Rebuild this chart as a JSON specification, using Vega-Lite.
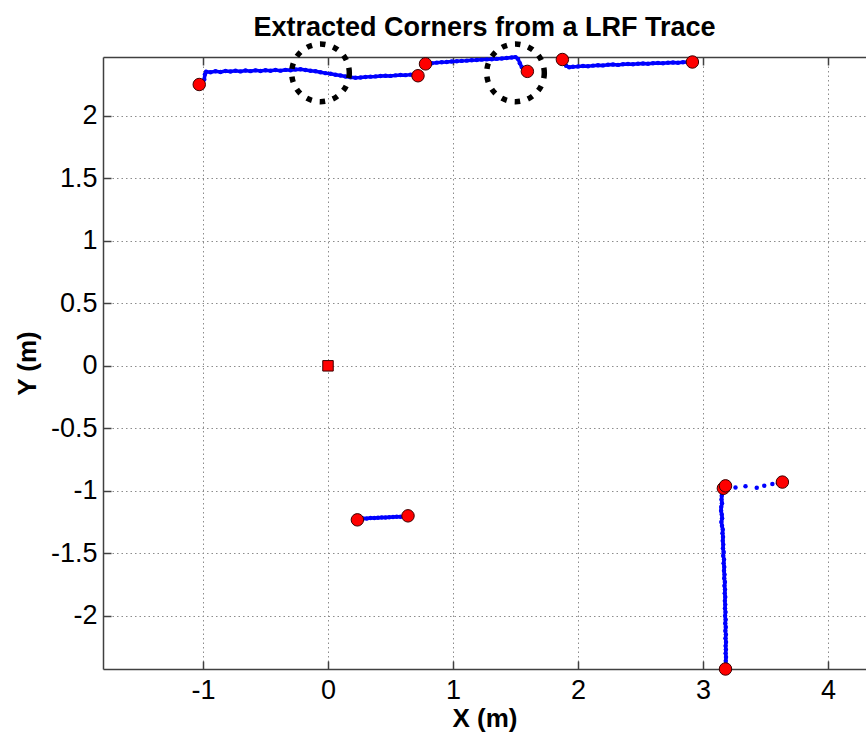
{
  "$schema": "https://vega.github.io/schema/vega-lite/v6.json",
  "width": 763,
  "height": 612,
  "autosize": {"type": "none"},
  "padding": {"left": 103, "top": 57, "right": 0, "bottom": 65},
  "background": "white",
  "title": {"text": "Extracted Corners from a LRF Trace", "font": "Liberation Sans", "fontSize": 27, "fontWeight": "bold", "color": "black", "anchor": "middle", "offset": -9},
  "config": {"view": {"stroke": null}, "font": "Liberation Sans"},
  "datasets": {
    "trace": [
      {"s": "A", "i": 1, "x": -0.99, "y": 2.29},
      {"s": "A", "i": 2, "x": -0.985, "y": 2.33},
      {"s": "A", "i": 3, "x": -0.975, "y": 2.352},
      {"s": "A", "i": 4, "x": -0.94, "y": 2.348},
      {"s": "A", "i": 5, "x": -0.9, "y": 2.356},
      {"s": "A", "i": 6, "x": -0.86, "y": 2.35},
      {"s": "A", "i": 7, "x": -0.82, "y": 2.358},
      {"s": "A", "i": 8, "x": -0.78, "y": 2.354},
      {"s": "A", "i": 9, "x": -0.74, "y": 2.36},
      {"s": "A", "i": 10, "x": -0.7, "y": 2.355},
      {"s": "A", "i": 11, "x": -0.66, "y": 2.362},
      {"s": "A", "i": 12, "x": -0.62, "y": 2.357},
      {"s": "A", "i": 13, "x": -0.58, "y": 2.363},
      {"s": "A", "i": 14, "x": -0.54, "y": 2.358},
      {"s": "A", "i": 15, "x": -0.5, "y": 2.364},
      {"s": "A", "i": 16, "x": -0.46, "y": 2.36},
      {"s": "A", "i": 17, "x": -0.42, "y": 2.366},
      {"s": "A", "i": 18, "x": -0.38, "y": 2.361},
      {"s": "A", "i": 19, "x": -0.34, "y": 2.367},
      {"s": "A", "i": 20, "x": -0.3, "y": 2.364},
      {"s": "A", "i": 21, "x": -0.26, "y": 2.37},
      {"s": "A", "i": 22, "x": -0.22, "y": 2.372},
      {"s": "A", "i": 23, "x": -0.18, "y": 2.366},
      {"s": "A", "i": 24, "x": -0.14, "y": 2.36},
      {"s": "A", "i": 25, "x": -0.1, "y": 2.356},
      {"s": "A", "i": 26, "x": -0.06, "y": 2.348},
      {"s": "A", "i": 27, "x": -0.02, "y": 2.341},
      {"s": "A", "i": 28, "x": 0.02, "y": 2.336},
      {"s": "A", "i": 29, "x": 0.06, "y": 2.328},
      {"s": "A", "i": 30, "x": 0.1, "y": 2.322},
      {"s": "A", "i": 31, "x": 0.14, "y": 2.314},
      {"s": "A", "i": 32, "x": 0.18, "y": 2.308},
      {"s": "A", "i": 33, "x": 0.22, "y": 2.304},
      {"s": "A", "i": 34, "x": 0.26, "y": 2.306},
      {"s": "A", "i": 35, "x": 0.3, "y": 2.31},
      {"s": "A", "i": 36, "x": 0.34, "y": 2.313},
      {"s": "A", "i": 37, "x": 0.38, "y": 2.315},
      {"s": "A", "i": 38, "x": 0.42, "y": 2.318},
      {"s": "A", "i": 39, "x": 0.46, "y": 2.32},
      {"s": "A", "i": 40, "x": 0.5, "y": 2.319},
      {"s": "A", "i": 41, "x": 0.54, "y": 2.323},
      {"s": "A", "i": 42, "x": 0.58, "y": 2.326},
      {"s": "A", "i": 43, "x": 0.62, "y": 2.325},
      {"s": "A", "i": 44, "x": 0.66, "y": 2.329},
      {"s": "A", "i": 45, "x": 0.7, "y": 2.331},
      {"s": "B", "i": 46, "x": 0.79, "y": 2.418},
      {"s": "B", "i": 47, "x": 0.83, "y": 2.42},
      {"s": "B", "i": 48, "x": 0.87, "y": 2.425},
      {"s": "B", "i": 49, "x": 0.91, "y": 2.428},
      {"s": "B", "i": 50, "x": 0.95, "y": 2.43},
      {"s": "B", "i": 51, "x": 0.99, "y": 2.434},
      {"s": "B", "i": 52, "x": 1.03, "y": 2.436},
      {"s": "B", "i": 53, "x": 1.07, "y": 2.439},
      {"s": "B", "i": 54, "x": 1.11, "y": 2.441},
      {"s": "B", "i": 55, "x": 1.15, "y": 2.444},
      {"s": "B", "i": 56, "x": 1.19, "y": 2.446},
      {"s": "B", "i": 57, "x": 1.23, "y": 2.449},
      {"s": "B", "i": 58, "x": 1.27, "y": 2.451},
      {"s": "B", "i": 59, "x": 1.31, "y": 2.452},
      {"s": "B", "i": 60, "x": 1.35, "y": 2.455},
      {"s": "B", "i": 61, "x": 1.39, "y": 2.458},
      {"s": "B", "i": 62, "x": 1.43, "y": 2.462},
      {"s": "B", "i": 63, "x": 1.47, "y": 2.466},
      {"s": "B", "i": 64, "x": 1.5, "y": 2.469},
      {"s": "B", "i": 65, "x": 1.52, "y": 2.455},
      {"s": "B", "i": 66, "x": 1.535, "y": 2.42},
      {"s": "B", "i": 67, "x": 1.55, "y": 2.39},
      {"s": "B", "i": 68, "x": 1.57, "y": 2.372},
      {"s": "B", "i": 69, "x": 1.585, "y": 2.36},
      {"s": "C", "i": 70, "x": 1.89, "y": 2.43},
      {"s": "C", "i": 71, "x": 1.905, "y": 2.4},
      {"s": "C", "i": 72, "x": 1.93, "y": 2.388},
      {"s": "C", "i": 73, "x": 1.96, "y": 2.392},
      {"s": "C", "i": 74, "x": 2.0, "y": 2.394},
      {"s": "C", "i": 75, "x": 2.04, "y": 2.398},
      {"s": "C", "i": 76, "x": 2.08, "y": 2.396},
      {"s": "C", "i": 77, "x": 2.12, "y": 2.401},
      {"s": "C", "i": 78, "x": 2.16, "y": 2.404},
      {"s": "C", "i": 79, "x": 2.2, "y": 2.403},
      {"s": "C", "i": 80, "x": 2.24, "y": 2.408},
      {"s": "C", "i": 81, "x": 2.28, "y": 2.41},
      {"s": "C", "i": 82, "x": 2.32, "y": 2.407},
      {"s": "C", "i": 83, "x": 2.36, "y": 2.412},
      {"s": "C", "i": 84, "x": 2.4, "y": 2.414},
      {"s": "C", "i": 85, "x": 2.44, "y": 2.412},
      {"s": "C", "i": 86, "x": 2.48, "y": 2.416},
      {"s": "C", "i": 87, "x": 2.52, "y": 2.418},
      {"s": "C", "i": 88, "x": 2.56, "y": 2.416},
      {"s": "C", "i": 89, "x": 2.6, "y": 2.42},
      {"s": "C", "i": 90, "x": 2.64, "y": 2.422},
      {"s": "C", "i": 91, "x": 2.68, "y": 2.42},
      {"s": "C", "i": 92, "x": 2.72, "y": 2.424},
      {"s": "C", "i": 93, "x": 2.76, "y": 2.426},
      {"s": "C", "i": 94, "x": 2.8, "y": 2.424},
      {"s": "C", "i": 95, "x": 2.84, "y": 2.428},
      {"s": "C", "i": 96, "x": 2.88, "y": 2.43},
      {"s": "D", "i": 97, "x": 0.25, "y": -1.226},
      {"s": "D", "i": 98, "x": 0.28, "y": -1.222},
      {"s": "D", "i": 99, "x": 0.31, "y": -1.221},
      {"s": "D", "i": 100, "x": 0.34, "y": -1.218},
      {"s": "D", "i": 101, "x": 0.37, "y": -1.217},
      {"s": "D", "i": 102, "x": 0.4, "y": -1.215},
      {"s": "D", "i": 103, "x": 0.43, "y": -1.214},
      {"s": "D", "i": 104, "x": 0.46, "y": -1.213},
      {"s": "D", "i": 105, "x": 0.49, "y": -1.211},
      {"s": "D", "i": 106, "x": 0.52, "y": -1.21},
      {"s": "D", "i": 107, "x": 0.55, "y": -1.208},
      {"s": "D", "i": 108, "x": 0.58, "y": -1.207},
      {"s": "D", "i": 109, "x": 0.61, "y": -1.205},
      {"s": "D", "i": 110, "x": 0.63, "y": -1.203},
      {"s": "E1", "i": 111, "x": 3.6, "y": -0.94},
      {"s": "E1", "i": 112, "x": 3.555, "y": -0.945},
      {"s": "E1", "i": 113, "x": 3.49, "y": -0.96},
      {"s": "E1", "i": 114, "x": 3.43, "y": -0.975},
      {"s": "E1", "i": 115, "x": 3.34, "y": -0.963},
      {"s": "E1", "i": 116, "x": 3.26, "y": -0.974},
      {"s": "E2", "i": 117, "x": 3.17, "y": -0.985},
      {"s": "E2", "i": 118, "x": 3.155, "y": -1.01},
      {"s": "E2", "i": 119, "x": 3.15, "y": -1.04},
      {"s": "E2", "i": 120, "x": 3.148, "y": -1.07},
      {"s": "E2", "i": 121, "x": 3.152, "y": -1.1},
      {"s": "E2", "i": 122, "x": 3.146, "y": -1.13},
      {"s": "E2", "i": 123, "x": 3.145, "y": -1.16},
      {"s": "E2", "i": 124, "x": 3.15, "y": -1.19},
      {"s": "E2", "i": 125, "x": 3.153, "y": -1.22},
      {"s": "E2", "i": 126, "x": 3.147, "y": -1.25},
      {"s": "E2", "i": 127, "x": 3.152, "y": -1.28},
      {"s": "E2", "i": 128, "x": 3.158, "y": -1.31},
      {"s": "E2", "i": 129, "x": 3.156, "y": -1.34},
      {"s": "E2", "i": 130, "x": 3.16, "y": -1.37},
      {"s": "E2", "i": 131, "x": 3.158, "y": -1.4},
      {"s": "E2", "i": 132, "x": 3.162, "y": -1.43},
      {"s": "E2", "i": 133, "x": 3.16, "y": -1.46},
      {"s": "E2", "i": 134, "x": 3.165, "y": -1.49},
      {"s": "E2", "i": 135, "x": 3.162, "y": -1.52},
      {"s": "E2", "i": 136, "x": 3.168, "y": -1.55},
      {"s": "E2", "i": 137, "x": 3.165, "y": -1.58},
      {"s": "E2", "i": 138, "x": 3.17, "y": -1.61},
      {"s": "E2", "i": 139, "x": 3.168, "y": -1.64},
      {"s": "E2", "i": 140, "x": 3.172, "y": -1.67},
      {"s": "E2", "i": 141, "x": 3.17, "y": -1.7},
      {"s": "E2", "i": 142, "x": 3.175, "y": -1.73},
      {"s": "E2", "i": 143, "x": 3.172, "y": -1.76},
      {"s": "E2", "i": 144, "x": 3.176, "y": -1.79},
      {"s": "E2", "i": 145, "x": 3.174, "y": -1.82},
      {"s": "E2", "i": 146, "x": 3.178, "y": -1.85},
      {"s": "E2", "i": 147, "x": 3.175, "y": -1.88},
      {"s": "E2", "i": 148, "x": 3.178, "y": -1.91},
      {"s": "E2", "i": 149, "x": 3.176, "y": -1.94},
      {"s": "E2", "i": 150, "x": 3.18, "y": -1.97},
      {"s": "E2", "i": 151, "x": 3.177, "y": -2.0},
      {"s": "E2", "i": 152, "x": 3.181, "y": -2.03},
      {"s": "E2", "i": 153, "x": 3.178, "y": -2.06},
      {"s": "E2", "i": 154, "x": 3.182, "y": -2.09},
      {"s": "E2", "i": 155, "x": 3.179, "y": -2.12},
      {"s": "E2", "i": 156, "x": 3.183, "y": -2.15},
      {"s": "E2", "i": 157, "x": 3.18, "y": -2.18},
      {"s": "E2", "i": 158, "x": 3.184, "y": -2.21},
      {"s": "E2", "i": 159, "x": 3.181, "y": -2.24},
      {"s": "E2", "i": 160, "x": 3.183, "y": -2.27},
      {"s": "E2", "i": 161, "x": 3.181, "y": -2.3},
      {"s": "E2", "i": 162, "x": 3.184, "y": -2.33},
      {"s": "E2", "i": 163, "x": 3.182, "y": -2.36},
      {"s": "E2", "i": 164, "x": 3.184, "y": -2.39},
      {"s": "E2", "i": 165, "x": 3.183, "y": -2.41}
    ],
    "corners": [
      {"x": -1.03, "y": 2.25},
      {"x": 0.72, "y": 2.32},
      {"x": 0.78, "y": 2.415},
      {"x": 1.595, "y": 2.355},
      {"x": 1.875, "y": 2.45},
      {"x": 2.915, "y": 2.43},
      {"x": 0.235, "y": -1.232},
      {"x": 0.64, "y": -1.2},
      {"x": 3.163, "y": -0.98},
      {"x": 3.18, "y": -0.96},
      {"x": 3.635, "y": -0.93},
      {"x": 3.18, "y": -2.425}
    ],
    "robot": [{"x": 0, "y": 0}],
    "highlights": [
      {"x": -0.06, "y": 2.343},
      {"x": 1.5, "y": 2.343}
    ]
  },
  "layer": [
    {
      "data": {"name": "trace"},
      "transform": [{"filter": "datum.s != 'E1'"}],
      "mark": {"type": "line", "color": "#0000ff", "strokeWidth": 3.5},
      "encoding": {
        "x": {"field": "x", "type": "quantitative", "scale": {"domain": [-1.8, 4.304], "nice": false, "zero": false},
          "axis": {"orient": "bottom", "values": [-1, 0, 1, 2, 3, 4], "labelExpr": "toString(datum.value)", "title": "X (m)", "grid": true, "gridColor": "#8c8c8c", "gridDash": [1.5, 3], "gridWidth": 1,
            "domainColor": "#404040", "domainWidth": 1.5, "ticks": true, "tickColor": "#404040", "tickWidth": 1.5, "tickSize": -8,
            "labelFont": "Liberation Sans", "labelFontSize": 27, "labelColor": "black", "labelPadding": 16, "labelFlush": false,
            "titleFont": "Liberation Sans", "titleFontSize": 26, "titleFontWeight": "bold", "titleColor": "black", "titlePadding": 2}},
        "y": {"field": "y", "type": "quantitative", "scale": {"domain": [-2.425, 2.47], "nice": false, "zero": false},
          "axis": {"orient": "left", "values": [-2, -1.5, -1, -0.5, 0, 0.5, 1, 1.5, 2], "labelExpr": "toString(datum.value)", "title": "Y (m)", "grid": true, "gridColor": "#8c8c8c", "gridDash": [1.5, 3], "gridWidth": 1,
            "domainColor": "#404040", "domainWidth": 1.5, "ticks": true, "tickColor": "#404040", "tickWidth": 1.5, "tickSize": -8,
            "labelFont": "Liberation Sans", "labelFontSize": 27, "labelColor": "black", "labelPadding": 14, "labelFlush": false,
            "titleFont": "Liberation Sans", "titleFontSize": 26, "titleFontWeight": "bold", "titleColor": "black", "titlePadding": 10}},
        "detail": {"field": "s", "type": "nominal"},
        "order": {"field": "i", "type": "quantitative"}
      }
    },
    {
      "data": {"name": "trace"},
      "mark": {"type": "circle", "color": "#0000ff", "size": 20, "opacity": 1},
      "encoding": {
        "x": {"field": "x", "type": "quantitative", "axis": null},
        "y": {"field": "y", "type": "quantitative"}
      }
    },
    {
      "data": {"name": "robot"},
      "mark": {"type": "square", "filled": true, "color": "#ff0000", "stroke": "#3a0000", "strokeWidth": 1, "size": 110, "opacity": 1},
      "encoding": {
        "x": {"field": "x", "type": "quantitative", "axis": null},
        "y": {"field": "y", "type": "quantitative"}
      }
    },
    {
      "data": {"name": "corners"},
      "mark": {"type": "point", "shape": "circle", "filled": true, "fill": "#ff0000", "stroke": "#3a0000", "strokeWidth": 1, "size": 155, "opacity": 1},
      "encoding": {
        "x": {"field": "x", "type": "quantitative", "axis": null},
        "y": {"field": "y", "type": "quantitative"}
      }
    },
    {
      "data": {"name": "highlights"},
      "mark": {"type": "point", "shape": "circle", "filled": false, "stroke": "black", "strokeWidth": 5.5, "strokeDash": [5.5, 8], "size": 3320, "opacity": 1},
      "encoding": {
        "x": {"field": "x", "type": "quantitative",
          "axis": {"orient": "top", "values": [-1, 0, 1, 2, 3, 4], "labels": false, "grid": false, "title": null,
            "domainColor": "#404040", "domainWidth": 1.5, "ticks": true, "tickColor": "#404040", "tickWidth": 1.5, "tickSize": -8}},
        "y": {"field": "y", "type": "quantitative"}
      }
    }
  ],
  "resolve": {"axis": {"x": "independent"}}
}
